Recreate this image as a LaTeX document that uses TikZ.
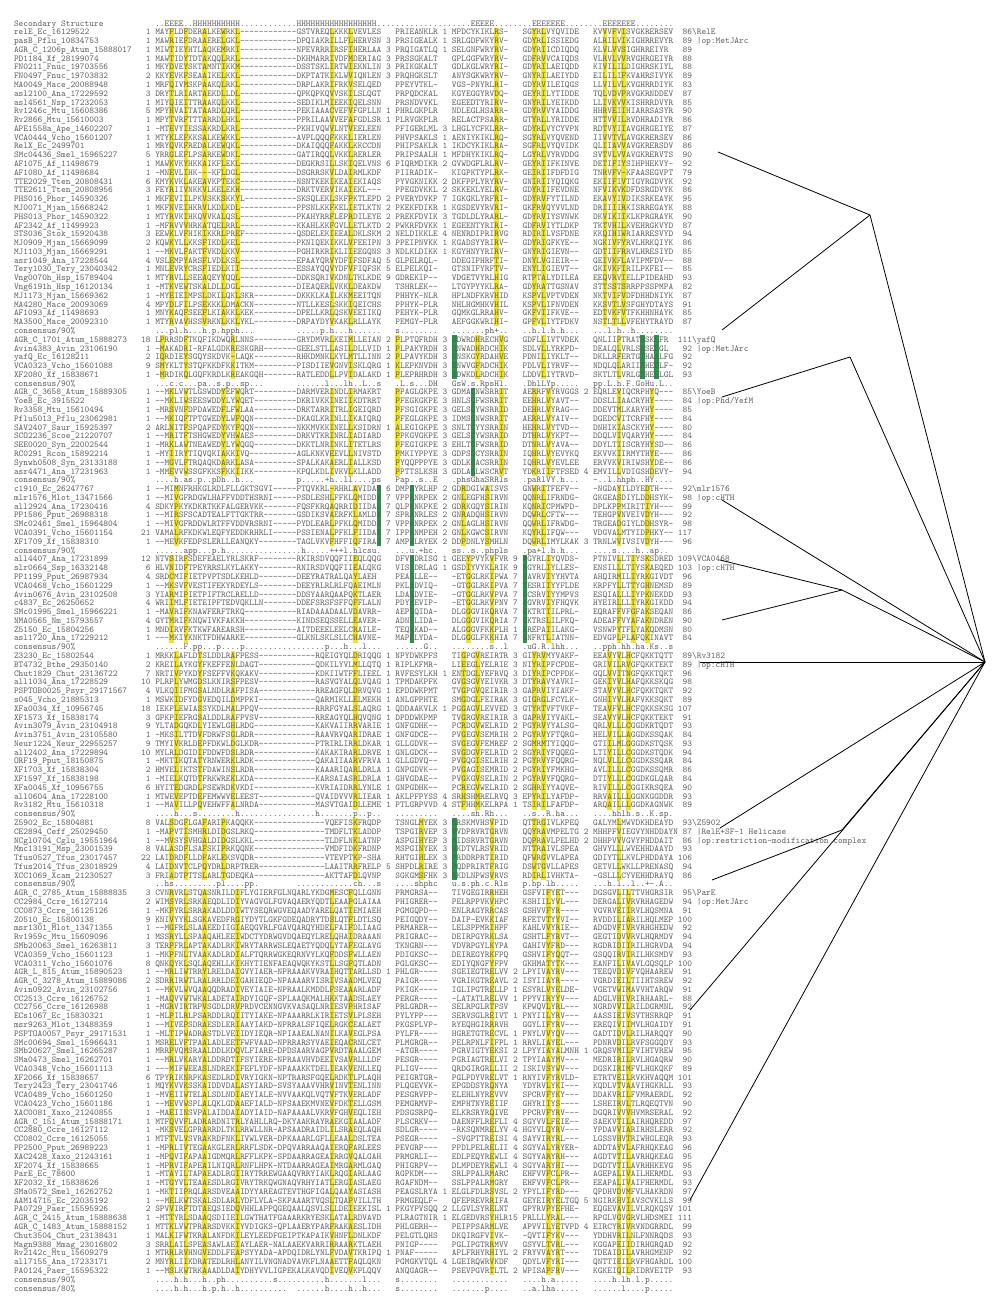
\documentclass[tikz,border=0pt]{standalone}
\usepackage{fontspec}
\setmonofont{lmmono10-regular.otf}
\usetikzlibrary{positioning}
\definecolor{ink}{RGB}{90,90,90}
\definecolor{hiyel}{RGB}{243,228,32}
\definecolor{higrn}{RGB}{38,150,72}
\newcommand{\pw}{4.709}
\newcount\rowk
\newcommand{\alnfont}{\fontsize{8.97}{9}\selectfont\ttfamily}
\tikzset{
    lt/.style={anchor=base west, inner sep=0pt, outer sep=0pt, text=ink, font=\alnfont},
    rt/.style={anchor=base east, inner sep=0pt, outer sep=0pt, text=ink, font=\alnfont},
    hy/.style={fill=hiyel},
    hg/.style={fill=higrn},
    branch/.style={draw=black, line width=0.8pt}
}
% one alignment row: name, start, A1, A2, i1, B, i2 | C, i3, D, i4, E, end, label
\newcommand{\sq}[7]{\global\advance\rowk by 1
    \def\sqnm{#1}\def\sqst{#2}\def\sqaa{#3}\def\sqah{#4}\def\sqia{#5}\def\sqbb{#6}\def\sqib{#7}\sqrest}
\newcommand{\sqrest}[7]{%
    \pgfmathsetmacro\yy{26+8.785*\the\rowk}
    \node[lt] (nm\the\rowk) at (14,\yy) {\sqnm};
    \node[rt] (st\the\rowk) at (150.56,\yy) {\sqst};
    \node[lt] (aa\the\rowk) at (155.27,\yy) {\sqaa};
    \node[lt] (ah\the\rowk) at (296.54,\yy) {\sqah};
    \node[rt] (ia\the\rowk) at (390.72,\yy) {\sqia};
    \node[lt] (bb\the\rowk) at (395.43,\yy) {\sqbb};
    \node[rt] (ib\the\rowk) at (447.23,\yy) {\sqib};
    \node[lt] (cc\the\rowk) at (451.94,\yy) {#1};
    \node[rt] (ic\the\rowk) at (517.86,\yy) {#2};
    \node[lt] (dd\the\rowk) at (522.57,\yy) {#3};
    \node[rt] (id\the\rowk) at (588.50,\yy) {#4};
    \node[lt] (ee\the\rowk) at (593.21,\yy) {#5};
    \node[rt] (en\the\rowk) at (692.10,\yy) {#6};
    \node[lt] (lb\the\rowk) at (692.10,\yy) {#7};
}
\newcommand{\hl}[4][hy]{\fill[#1] ({14+#2*\pw},{23.3+8.785*#3-4.4}) rectangle ({14+(#2+1)*\pw},{23.3+8.785*#4+4.4});}

\begin{document}
\catcode`\_=12
\begin{tikzpicture}[x=1pt, y=-1pt]
    \fill[white] (0,0) rectangle (1000,1309);
    \useasboundingbox (0,0) rectangle (1000,1309);

    \foreach \cl in {33,36,40,44,47,67,71,102,110,112,125,127,129} {\hl{\cl}{1}{34}}
    \foreach \cl in {31,36,46,67,71,81,98,103,112,128} {\hl{\cl}{36}{40}}
    \foreach \cl in {93,133,136} {\hl[hg]{\cl}{36}{40}}
    \foreach \cl in {33,36,44,47,67,71,81,103,110,113,128,135} {\hl{\cl}{42}{51}}
    \hl[hg]{97}{42}{51}
    \foreach \cl in {34,67,72,95,100,110,112,128,134} {\hl{\cl}{53}{59}}
    \foreach \cl in {77,84} {\hl[hg]{\cl}{53}{59}}
    \foreach \cl in {33,36,72,96,101,113,128,131,134} {\hl{\cl}{61}{70}}
    \foreach \cl in {84,108} {\hl[hg]{\cl}{61}{70}}
    \foreach \cl in {34,39,46,72,95,98,110,112,126,128,130} {\hl{\cl}{72}{89}}
    \foreach \cl in {33,36,40,44,72,86,101,110,112,128} {\hl{\cl}{91}{97}}
    \hl[hg]{93}{91}{97}
    \foreach \cl in {33,36,40,47,67,71,101,113,115,128,130} {\hl{\cl}{99}{142}}

    \node[lt] (sshead) at (14,26) {Secondary Structure};
    \node[lt] (ssline) at (155.27,26) {..EEEE..HHHHHHHHHH............HHHHHHHHHHHHHHHHH....................EEEEE........EEEEEEE........EEEEEEE........};

    \sq{relE_Ec_16129522}{1}{MAYFLDFDERALKEWRKL------------}{GSTVREQLKKKLVEVLES}{}{PRIEANKLR}{1}{MPDCYKIKLRS-}{}{SGYRLVYQVIDE}{}{KVVVFVISVGKRERSEV}{86}{\textbackslash RelE}
    \sq{pasB_Pflu_10834753}{1}{MAWRIEFDRAAERELGKL------------}{DPQIAKRILLFLHERVSN}{3}{PRSIGEALK}{1}{SRLGDFWKYRV-}{}{GDYRLISSIEDG}{}{ALRILVIKIGHRREVYR}{89}{~|op:MetJArc}
    \sq{AGR_C_1206p_Atum_15888017}{1}{MIWTIEYHTLAQKEMRKI------------}{NPEVRRRIRSFIHERLAA}{3}{PRQIGATLQ}{1}{SELGNFWRYRV-}{}{GDYRIICDIQDQ}{}{KLVLVVSIGHRREIYR}{89}{}
    \sq{PD1184_Xf_28199074}{1}{MAWTIDYTDTAKQQLRKL------------}{DKHMARRIVDFMDERIAG}{3}{PRSSGKALT}{}{GPLGGFWRYRV-}{}{GDFRVVCAIQDS}{}{VLRVLVVRVGHRGEIYR}{88}{}
    \sq{FN0211_Fnuc_19703556}{1}{MKYDVEYSKTAMNTIKKM------------}{DSSTSKLIRTWIEKNLIN}{3}{PRIKGKALT}{}{GDLKGLWRYRI-}{}{GDYRILAEIQDD}{}{KIVILILDIGHRSKIYL}{88}{}
    \sq{FN0497_Fnuc_19703832}{2}{KKYEVKFSEAAIKELKKL------------}{DKPTATKIKLWVIQNLEN}{3}{PRQHGKSLT}{}{ANYSGKWRYRV-}{}{GNYRILAEIYDD}{}{EILILIFKVAHRSIVYK}{89}{}
    \sq{MA0049_Mace_20088948}{1}{MRFQIVMSKPAAKQLRKL------------}{DRPLAKRIFRKVSELQED}{}{PPEYVTKL-}{}{VGS-PNYRLRI-}{}{GDYRVILEIQGS}{}{LLVILVLKVGHRRDIYK}{83}{}
    \sq{asl2100_Ana_17229592}{3}{DRYTLRIARTAEKDLLDL------------}{QPKQPKQVVSKILSLQGT}{}{PRPQDCKAL}{}{KGYEGGYRVDQ-}{}{GEYRILYTIDDE}{}{TQLVDVPRVGKRNDDEV}{87}{}
    \sq{asl4561_Nsp_17232053}{1}{MIYQIEITTRAAKQLKKL------------}{SEDIKLMIEEKIQELSNN}{}{PRSNDVVKL}{}{EGEEDTYRIRV-}{}{GNYRILYEIKDD}{}{LLIVKVVKISHRRDVYR}{85}{}
    \sq{Rv1246c_Mtu_15608386}{5}{MPYHVAITATAARDLQRL------------}{PEKIAAACVEFVFGPLLN}{1}{PHRLGKPLR}{}{NDLEGLHSARR-}{}{GDYRVVYAIDDG}{}{HHRVEIIHIARRSASYR}{90}{}
    \sq{Rv2866_Mtu_15610003}{1}{MPYTVRFTTTARRDLHKL------------}{PPRILAAVVEFAFGDLSR}{1}{PLRVGKPLR}{}{RELACTPSARR-}{}{GTYRLLYRIDDE}{}{HTTVVILRVDHRADIYR}{86}{}
    \sq{APE1558a_Ape_14602207}{1}{-MTEVYIESSAKRDLKRL------------}{PKHIVQWVLNTVEELEEN}{}{PFIGERLML}{3}{LHGLYCFKLRR-}{}{GDYRLVYCYVPN}{}{RDTVYIIAVGHRGEIYE}{87}{}
    \sq{VCA0444_Vcho_15601207}{1}{MTYKLEFKKSALKEWKKL------------}{AVPLQQQFKKKLIERLEN}{}{PHVPSAKLS}{1}{AENIYKIKLRQ-}{}{SGYRLVYQVEND}{}{IIVVTVLAVGKRERSEV}{86}{}
    \sq{RelX_Ec_2499701}{1}{MRYQVKFREDALKEWQKL------------}{DKAIQQQFAKKLKKCCDN}{}{PHIPSAKLR}{1}{IKDCYKIKLRA-}{}{SGFRLVYQVIDK}{}{QLIIAVVAVGKRERSDV}{86}{}
    \sq{SMc04436_Smel_15965227}{5}{YRRGLEFLPSARKEWDKL------------}{GATIRQQLVKKLRERLER}{}{PRIPSAALH}{1}{MFDHYKIKLRQ-}{}{LGYRLVYRVDDG}{}{SVTVLVVAVGKRERVTS}{90}{}
    \sq{AF1075_Af_11498679}{1}{MAWKVKYHKKAIKFLEKL------------}{DEGKRSILLSKIQELVNS}{6}{PIQRMDIKR}{2}{GVWDGFLRLRV-}{}{GEYRIIFKINVE}{}{DETIFIYSIHPHEKVY-}{92}{}
    \sq{AF1080_Af_11498684}{1}{-MNEVLIHK---KFLDGL------------}{DSGRRSKVLDAIRMLKDF}{}{PIIRADIK-}{}{KIGPKTYPLRK-}{}{GEIRIIFDFDIG}{}{TNRVFV-KFAASEGVPT}{79}{}
    \sq{TTE2029_Tten_20808431}{6}{KMYKVKLAKEAVKPTEKC------------}{NSNTKEKIKEAIEKIAQS}{}{PYVGKNIKK}{2}{DKFPPLYRYRV-}{}{GNIRIIYQIQKG}{}{EKIIFIVTIGYRGDVYK}{92}{}
    \sq{TTE2611_Tten_20808956}{3}{FEYRIIVNKKVLKELEKH------------}{DRKTVERVIKAIEKL---}{}{PPEGDVKKL}{2}{SKKEKLYELRV-}{}{GDYRIIFEVDNE}{}{NFVIKVKDFDSRGDVYK}{86}{}
    \sq{PHS016_Phor_14590326}{1}{MKFEVIILPKVSKKSKKYL-----------}{SKSQLEKLSKFPKTLEPD}{2}{PVERYDVKP}{7}{IGKGKLYRFRI-}{}{GDYRVFYTILND}{}{EKAVYIVDIKSRKEAYK}{95}{}
    \sq{MJ0071_Mjan_15668242}{1}{MKFNVEIHKRVLKDLKDL------------}{PPSNLKKFKELIETLKTN}{2}{PKEKFDIKR}{1}{KGSDEVYRVRI-}{}{GKFRVQYVVLND}{}{DRIIIIRKISRREGAYK}{88}{}
    \sq{PHS013_Phor_14590322}{1}{MTYRVKIHKQVVKALQSL------------}{PKAHYRRFLEPRDILEYE}{2}{PREKFDVIK}{3}{TGDLDLYRARL-}{}{GDYRVIYSVNWK}{}{DKVIKIIKLKPRGRAYK}{90}{}
    \sq{AF2342_Af_11499923}{1}{-MFRVVVHRKATQELRRL------------}{KKAHLKKFGVLLETLKTD}{2}{PWKRFDVKK}{1}{EGEENTYRIRI-}{}{GDFRVIYTLDKP}{}{TKTVHILKVEHRGKVYD}{87}{}
    \sq{STS036_Stok_15920438}{3}{EEWKLVFHIKIKKRLPREF-----------}{QSDELEKIEEALDKLSKM}{2}{NELDIKKLE}{4}{NENRDIPRIRVG}{}{RDIRILVSFDNE}{}{KKQIHIWRIARRESVYD}{94}{}
    \sq{MJ0909_Mjan_15669099}{2}{KQWKYLLKKSFIKDLKEL------------}{PKNIQEKIKKLVFEEIPN}{3}{PPEIPNVKK}{1}{KGADSYYRIRV-}{}{GDYRIGFKYE--}{}{NGKIVFYRVLHRKQIYK}{86}{}
    \sq{MJ1103_Mjan_15669291}{1}{--MKVLFAKTFVKDLKKV------------}{PGHIRKRIKLIIEEGQNS}{3}{NDLKLDIKK}{1}{KGYHNYYRIRV-}{}{GNYRIGIEVN--}{}{GDTIIFRRVLHRESIYD}{85}{}
    \sq{asr1049_Ana_17228544}{4}{VSLEMPYARSFLVDLKSL------------}{EPAAYQRVYDFIFSDFAQ}{5}{GLPELRQL-}{}{DDEGIPHRFTI-}{}{DNYLVGIEIR--}{}{GEIVKFLAVIPMFDV--}{88}{}
    \sq{Tery1030_Tery_23040342}{1}{MNLEVRYCRSFIEDLKII------------}{ESSAYQQVYDFVFIQFSK}{5}{ELPELKQI-}{}{GTSNIFYRFTV-}{}{ENYLIGIEVT--}{}{GKIVKFIRILPKFEI--}{85}{}
    \sq{Vng0070h_Hsp_15789404}{1}{MTYRVLLSEEAQEYYQQL------------}{DDKSQRIVKDNLTKLKDE}{9}{GDREKIP--}{}{VDGETVYRLHIG}{}{RTPTALYDILEA}{}{EEQVRVIELLPIDEAHD}{93}{}
    \sq{Vng6191h_Hsp_16120134}{1}{-MTKVEWTSKALDLLDGL------------}{DIEAQERLVKKLDEAKDW}{}{TSHRLEK--}{}{LTGYPYYKLRA-}{}{GDYRATTGSNAV}{}{STTSSTSRRPPSSPMPA}{82}{}
    \sq{MJ1173_Mjan_15669362}{1}{-MYEIEIMPSLDKILQKLSKR---------}{DKKKLKAILKKMEEITQN}{}{PHHYK-NLR}{}{HPLNDFKRVHID}{}{KSPVLVPTVDEN}{}{NKTVIFVDFDHHDNIYK}{87}{}
    \sq{MA4280_Mace_20093069}{4}{MPYDLFILPSEKKKLDMACKN---------}{NTLLKESLSKKIQEICHS}{}{PPHYK-PLR}{}{NHLHGMHKVHIL}{}{KSPVLIFNVDEN}{}{KKSVTLVSFGHYDTAYS}{91}{}
    \sq{AF1093_Af_11498693}{1}{MNYKAQFSEEFLKIAKKLKEK---------}{DPELLKRLQSKVEEIIKQ}{}{PEHYK-PLR}{}{GQMKGLRRAHV-}{}{GKFVIIFKVE--}{}{EDTVKFVTFKHHNHAYK}{85}{}
    \sq{MA3500_Mace_20092310}{1}{MTYRVAVHSSVRKNLKKLYKL---------}{DRPAYDYVKAKLRLLAYK}{}{PEMGY-PLR}{}{AEFGGKWRIHI-}{}{GPFVLIYTFDKV}{}{NSTLTLLVFEHYTRAYD}{87}{}
    \sq{consensus/90\%}{}{...pl.h...h.p.hpph...}{.....p.h...h......}{}{s........}{}{.......ph+..}{}{..h.l.h.h...}{}{...l.h..h........}{}{}

    \sq{AGR_C_1701_Atum_15888273}{18}{LPRRSDFTKQFIKDWQRLNNS---------}{GRYDMVRLKEIMLLEIAN}{2}{PLPTQFRDH}{3}{SDWRDHRECHVG}{}{GDFLLIVTVDEK}{}{QNLIIPTRATHSKLFR}{111}{\textbackslash yafQ}
    \sq{Avin4383_Avin_23106190}{1}{-MAKADRI-RFALGDKRESKGRH-------}{GEELSTLLASILDLLVID}{1}{PLPAKYRDH}{3}{SNWADHRDCHIK}{}{SDLVLLYRKPD-}{}{DEALQLVRLSHSELGL}{92}{~|op:MetJArc}
    \sq{yafQ_Ec_16128211}{2}{IQRDIEYSGQYSKDVK-LAQK---------}{RHKDMNKLKYLMTLLINN}{2}{PLPAVYKDH}{3}{SNSKGYRDAHVE}{}{PDNILIYKLT--}{}{DKLLRFERTGTHAALFG}{92}{}
    \sq{VCA0323_Vcho_15601088}{9}{SMYKLTYSTQFKKDFKKITKM---------}{PISDIIEVGNVISKLQRG}{1}{KLEPKNVDH}{3}{SNWVGFRDCHIK}{}{PDLVLIYRVF--}{}{NDQLQLARIISHEDLF-}{92}{}
    \sq{XF2080_Xf_15838671}{1}{-MRDIKQLGQFKRDLKREAKGQH-------}{RATLEDDLLPVIDALAKD}{1}{PLEPRHRDH}{3}{SDWKDLRDCHIK}{}{LDDVLIYTRVD-}{}{SKTLTLVRLGSHEELGL}{93}{}
    \sq{consensus/90\%}{}{...c.c...pa..s.p..sp...}{......l...lh..L..s}{}{.L.s...DH}{}{GsW.s.RpsHl.}{}{.DhlLYp.....}{}{pp.L.h.F.GoHu.L..}{}{}

    \sq{AGR_C_3658_Atum_15889305}{1}{--MKLVWTLGSWDDYEFWQRT---------}{DARMVERINDLIRMAKRT}{}{PPAGLGKPE}{3}{GDMAGNWSRRIT}{}{AERRFVYRVGGS}{2}{EQRLEVIQCRPHYQ---}{85}{\textbackslash YoeB}
    \sq{YoeB_Ec_3915522}{1}{--MKLIWSEESWDDYLYWQET---------}{DKRIVKKINEIIKDTRRT}{}{PFEGKGKPE}{3}{HNLSGFWSRRIT}{}{EEHRLVYAVT--}{}{DDSLLIAACRYHY----}{84}{~|op:Phd/YefM}
    \sq{Rv3358_Mtu_15610494}{1}{-MRSVNFDPDAWEDFLFWLAA---------}{DRKTARRITRLIGEIQRD}{}{PFSGIGKPE}{3}{GELSGYWSRRID}{}{DEHRLVYRAG--}{}{DDEVTMLKARYHY----}{85}{}
    \sq{Pflu5013_Pflu_23062981}{1}{--MKIQFTPTGWEDYLWFQQN---------}{DKAGLKRINLLIKAIQRQ}{}{PFEGLGKPE}{3}{IDMSGNWSRRIT}{}{AERRLVYAIV--}{}{DGEDCVITCRFHY----}{84}{}
    \sq{SAV2407_Saur_15925397}{2}{ARLNITFSPQAPEDYKYFQQN---------}{NKKMVKKINELLKSIDRN}{1}{ALEGIGKPE}{3}{SNLTGYYSRRIN}{}{HEHRLVYTVD--}{}{DNHIKIASCKYHY----}{80}{}
    \sq{SCO2236_Scoe_21220707}{1}{--MRITFTSHGWEDYVHWAES---------}{DRKVTKRINRLIADIARD}{}{PPKGVGKPE}{3}{GELSGYWSRRID}{}{DTHRLVYKPT--}{}{DDQLVIVQARYHY----}{84}{}
    \sq{SEE0020_Syn_22002544}{1}{-MRKLAWTNEAWEDYLYWQGQ---------}{DKKTLNRINKLITETLRS}{}{PFEGIGKPE}{3}{EHLTGFWSRRID}{}{DTNRLVYAVA--}{}{DDYLTIISCRYHYSD--}{86}{}
    \sq{RC0291_Rcon_15892214}{1}{-MYIIRYTIQVQKIAKKIVQ----------}{AGLKNKVEEVLLNIVSTD}{}{PMKIYPPYE}{3}{GDPSGCYSRRIN}{}{IQHRLVYEVYKQ}{}{EKVVKIIRMYTHYE---}{86}{}
    \sq{Synwh0508_Syn_23133188}{1}{--MGVLFTRQAQKDARKLASA---------}{SPALKAKAERLIALLKSD}{}{PYQQPPPYE}{3}{GDLKGACSRRIN}{}{IQHRLVYEVLEE}{}{ERVVKVIRIWSHYDE--}{86}{}
    \sq{asr4471_Ana_17231963}{1}{-MMEVVWSSGFKKSFKKIIKK---------}{KPQLKDLIVKVLKLLADD}{}{PPTTSLKSH}{3}{GDLAGLWSCRVT}{}{YDKRIIFTFSED}{4}{EMVILLVDIGSHDEVY-}{94}{}
    \sq{consensus/90\%}{}{....h.as.p..pDh..h...}{p.....+h..ll....ps}{}{Pap..s..E}{}{.phsGhaSRRls}{}{.paRlVY.h...}{}{-..l.hhph..HY....}{}{}

    \sq{c1910_Ec_26247767}{1}{--MIMNFRHKGLRDLFLLGKTSGVI-----}{PTQVKRL-RHRLAVIDAM}{6}{DMPSYRLHP}{2}{GDRDGIWAISVS}{}{GNWRITFEFV--}{}{-NGDAYILDYEDTH---}{92}{\textbackslash mlr1576}
    \sq{mlr1576_Mlot_13471566}{1}{--MIVGFRDGWLHAFFVDDTHSRNI-----}{PSDLESHLFFKLQMIDDA}{7}{VPPRNRPEK}{2}{GNLEGFHSIRVN}{}{QQNRLIFRNDG-}{}{GKGEASDIYLDDHSYK-}{98}{~|op:cHTH}
    \sq{all2924_Ana_17230416}{4}{SDKYPKYKDKRTKKFALGERVKK-------}{FQSFKRQAQRRIDIIDAL}{7}{QLPRNKPKE}{2}{GDRKGQYSIRIN}{}{KQNRICPMWPD-}{}{DPLKPPMIRITIYH---}{99}{}
    \sq{PP1586_Pput_26988318}{1}{--MIRSFSCADTEALFTTGKTRR-------}{GSDIKSVAERFKLAMLDA}{7}{SPRRNRLES}{2}{GNRADQHSIRVN}{}{DQWRLCFTW---}{}{TEHGPVNVEIVDYH---}{92}{}
    \sq{SMc02461_Smel_15964804}{1}{--MIVGFRDDWLRTFFVDDVRSRNI-----}{PYDLEARLPFKLQMIDDA}{7}{VPPRNRPEK}{2}{GNLAGLHSIRVN}{}{QQWRLIFRWDG-}{}{TRGEADGIYLDDHSYR-}{98}{}
    \sq{VCA0391_Vcho_15601154}{21}{VAMALRFKDKWLEQFYEDDKRHRLI-----}{PSSIENALPFKLFIIDAR}{7}{IPPRNMPEH}{2}{GNLKGWCSIRVN}{}{KQYRLIFQW---}{}{VDGVALMTYIDPHKY--}{117}{}
    \sq{XF1709_Xf_15838310}{1}{--MEVKFEDPSLERLLEANQKY--------}{TAGLVKVFHFFIQFIRAS}{7}{AMPRLRYEK}{2}{DDPDNLYSMHLN}{}{DQWRLIMYLKAK}{3}{TRNLWVIVSIVDYH---}{96}{}
    \sq{consensus/90\%}{}{......app...p.h...............}{.h.....+++l.hlcsu.}{}{...u.+hc.}{}{ss..s..phpls}{}{.pa+l.h.h...}{}{....s....h..ap..}{}{}

    \sq{all4407_Ana_17231899}{12}{NTVSIRFSDEFEAELYRLSKRF--------}{RKIRSDVQQFIIEQLQQG}{}{DFVSDRISG}{1}{GEEYPVYKVFVR}{9}{RGYRLIYQVDS-}{}{PTNIVLLTIYSKSDRED}{109}{\textbackslash VCA0468}
    \sq{slr0664_Ssp_16332148}{6}{HLVNIDFTPEYRRSLKYLAKKY--------}{RNIRSDVQQFIIEALQKG}{}{VISEDRLAG}{1}{GSDIYVYKLRIK}{9}{RGYRLIYLLES-}{}{ENSILLLTIYSKAEQED}{103}{~|op:cHTH}
    \sq{PP1199_Pput_26987934}{4}{SRDCMIFIETPVPTSDLKEHLD--------}{DEEYRATRALQAYLAEH}{}{PEASLLE--}{}{-ETGGLRKIPWA}{7}{GAVRVIYYHVTA}{}{AHQIRMILIYRKGIVDT}{96}{}
    \sq{VCA0468_Vcho_15601229}{1}{--MKSVFVESTIFEKYRDEYLS--------}{DEEYRLRLRLFQAEIMLN}{}{PKLADVIQ-}{}{-GTGGLRKIPVA}{7}{TESRIIYYFLDE}{}{KRPFYLLTTYGHNEMSD}{89}{}
    \sq{Avin0676_Avin_23102508}{3}{YIARMIPIETPIFTRCLRELLD--------}{DDSYAARQAAPQKTLAER}{}{LDAHDVIE-}{}{-GTGGLRKVPVA}{7}{GCSRVIYYMPVS}{}{ESQIALLLIYPKNEKDD}{93}{}
    \sq{c4837_Ec_26250652}{4}{WRIIMLFIETEIPFTEDVQKLLN-------}{DDEFSRSFSFFQFFLALN}{}{PDYHEVIP-}{}{-ETGGLRKVPNV}{7}{AGVRVIYFHQVK}{}{HYEIRLLLIYRKGIKDD}{94}{}
    \sq{SMc01995_Smel_15966221}{1}{-MAVRIFKNAWFERFTRKQ-----------}{RIADAAADAALVDAVRR-}{}{AEPEQIDA-}{}{DLGGGVIKQRVA}{7}{GKTRTIILPRL-}{}{EQRAFFVFGFAKSEQAN}{86}{}
    \sq{NMA0565_Nm_15793557}{4}{GYTMRIFKNQWIVKFAKKH-----------}{KINDSEQSSELLEAVER-}{}{ADNELIDA-}{}{DLGGGVIKQRIA}{7}{GKTRSLILFKQ-}{}{ADEAFFVYAFAKNDREN}{90}{}
    \sq{Z5150_Ec_15804256}{1}{MNDIRVFKTKWFAREARSH-----------}{AITDEEELEELCRAILE-}{}{TEQRKAD--}{}{ALGGGVFKKPLH}{1}{NREPAIILAKG-}{}{VSNWPYTFLYAKQDMSN}{80}{}
    \sq{asl1720_Ana_17229212}{1}{---MKIYKNKTFDHWARKE-----------}{GLKNLSKLSLLCHAVNE-}{}{MAPELYDA-}{}{DLGGGLFKKHIA}{7}{GNFRTLIATNN-}{}{EDVGPLPLAFQKINAVT}{84}{}
    \sq{consensus/90\%}{}{......F.pp...p....p...........}{......p...h...l...}{}{......G..}{}{........s..l}{}{.uG.R.lhh...}{}{..pph.hh.ha.Ks..s}{}{}

    \sq{Z3230_Ec_15802544}{1}{MRKKLAFLDTSLDDLRAFPESS--------}{----RQEIGYQLDRIQQG}{1}{NPYDWKPFS}{}{TIGPGVREIRTR}{3}{GIYRVMYVAKF-}{}{EEAVYVLHCFQKKTQTT}{89}{\textbackslash Rv3182}
    \sq{BT4732_Bthe_29350140}{2}{KREILAYKGYFKEFFENLDAGT--------}{----QDKILYVLMLLQTQ}{1}{RIPLKFMR-}{}{LIEEGLYELRIE}{3}{NIYRIPFCPDE-}{}{GRIVILRVGFQKKTEKT}{89}{~|op:cHTH}
    \sq{Chut1829_Chut_23136722}{7}{NRTIVPYKDYFSEFFVKQKAKV--------}{----KDKIIWTFFLIEEL}{1}{RVFESYLKH}{1}{ENTDGLYEFRVQ}{3}{DIYRIPCPPDK-}{}{GQLVVITNGFQKKTQKT}{96}{}
    \sq{all1034_Ana_17228529}{10}{PLRPLYWMGDSLKNIRSFPESV--------}{----RASVGYALQLVQAG}{1}{TPMDAKPFK}{}{GVGSGVYEIVKR}{3}{DTYRAVYAVKI-}{}{GEKIYVLHAFQKKSKQG}{98}{}
    \sq{PSPTOB0025_Psyr_29171567}{4}{VLKQIIFMGSALNDLRAFPISA--------}{----RREAGFQLDRVQVG}{1}{EPDDWKPMT}{}{TVGPGVQEIRIR}{3}{GAPRVIYIAKF-}{}{STAVYVLHCFQKKTQKT}{92}{}
    \sq{s045_Vcho_21885313}{1}{MSWKIDFYDGVEDQILDMPPKI--------}{----QARMIKLLELMEKH}{1}{ANLGPPHTE}{}{SMGDGLFEIRAK}{3}{GIGRGLFCYLK-}{}{GNHIYVLHAFVKKSQKT}{89}{}
    \sq{XFa0034_Xf_10956745}{18}{IEKPLEWIASSYKDLMALPPQV--------}{----RRRFGYALSLAQRG}{1}{QDDAAKVLK}{1}{PGGAGVLEVVED}{3}{GTYRTVFTVKF-}{}{TEAVFVLHCFQKKSKSG}{107}{}
    \sq{XF1573_Xf_15838174}{3}{GPKPIEFRGSALDDLRAFPVSV--------}{----RREAGYQLHQVQNG}{1}{DPDDWKPMP}{}{TVGRGVREIRIR}{3}{GAPRVIYVAKL-}{}{SEAVYVLHCFQKKTEKT}{91}{}
    \sq{Avin3079_Avin_23104918}{9}{YLTADGQKDLYIEWLGHLRDG---------}{----KAKVAIIRRVARIE}{1}{GNFGDHK--}{}{PCRDGVWELRID}{2}{PGYRVYYALSG-}{}{QRLVLLLCGGDKRTQDT}{93}{}
    \sq{Avin3751_Avin_23105580}{1}{-MKSILTTDVFDRWFSGLRDR---------}{----RAAVRVQARIDRAE}{1}{GNFGDCE--}{}{PVGEGVSEMRIH}{2}{PGYRVYFTQRG-}{}{HELVILLAGGDKSSQAK}{84}{}
    \sq{Neur1224_Neur_22955257}{9}{TMYIVKRLDEPFDKWLDGLKDR--------}{----PTRIRLIRRLDKAR}{1}{GLLGDVK--}{}{SVGEGVFEMREF}{2}{SGMRMTYIQQG-}{}{GTIILMLGGGDKSTQSK}{93}{}
    \sq{all2402_Ana_17229894}{10}{MYLRLDGIDIFDDWFDSLRDR---------}{----KAKAKIRARLDRVE}{1}{GNLGDCK--}{}{SVGDGVFELRID}{2}{SGYRIYFQQEG-}{}{LTIYILLCGGDKSTQDK}{94}{}
    \sq{ORF19_Pput_18150875}{1}{-MKTIKQTATYRNWERKLRDK---------}{----QAKAIIAARVFRVA}{1}{GLLGDVQ--}{}{PVGQGISELRIH}{2}{PGYRVYFQQRG-}{}{NQLVLLLCGGDKSSQAR}{84}{}
    \sq{XF1703_Xf_15838304}{2}{HMVELIKTSTFDAWINSLRDR---------}{----KAAARIQARLDRLA}{1}{GNPGDVK--}{}{PVGAGISEMRID}{2}{PGYRIYFMKHG-}{}{AVLILLLCGGDKSSQMR}{86}{}
    \sq{XF1597_Xf_15838198}{1}{-MIELKQTDTFRKWREKLKDA---------}{----KARSAIASRLDRLA}{1}{GHVGDAE--}{}{PVGKGVSELRIN}{2}{PGYRVYFQQRG-}{}{DTIYLLLCGGDKGLQAR}{84}{}
    \sq{XFa0045_Xf_10956755}{6}{HYITEDGRDLPSEWRDKVKDI---------}{----KVRIAIDRRLYNLE}{1}{GNPGDHK--}{}{PCREGVWELRID}{2}{SGHRIYYAQVE-}{}{RIVILLLCGGIKRSQEA}{90}{}
    \sq{all0604_Ana_17228100}{1}{MTWEVEPTDEFEMWWVELEEST--------}{----QVAIDVVVRLIEAR}{1}{AKLPFPYSS}{4}{SRHSHMRELRVQ}{3}{EPYRILYAFDP-}{}{RRVAILLLGGNKGGDDR}{93}{}
    \sq{Rv3182_Mtu_15610318}{1}{--MAVILLPQVEHWFFALNRDA--------}{----MASVTGAIDLLEME}{1}{PTLGRPVVD}{4}{STFHHMKELRPA}{1}{TSIRILFAFDP-}{}{ARQAILLLGGDKAGNWK}{89}{}
    \sq{consensus/90\%}{}{....h...s........h............}{....h.......p..p..}{}{.........}{}{....sh.Rh...}{}{..s..R.ha...}{}{....hhlh.s..K.sp.}{}{}

    \sq{Z5902_Ec_15804881}{8}{VALSDGFLGAFARIPKAQQKK---------}{------VQEFISKFRQDP}{}{TSNGLMYEK}{3}{RRSKMVHSVPID}{}{QTTRGIVLKPEQ}{}{GALYMLMWVDKHDEAYD}{93}{\textbackslash Z5902}
    \sq{CE2894_Ceff_25029450}{1}{-MAPVTISMHRLDIDGSLRKQ---------}{------TMDFLTKLADDP}{}{TSPGIRVEP}{3}{VVDPRVRTGRVN}{}{QQYRAVMPELTG}{2}{MHHPFVIEGVYNHDDAYN}{87}{~|RelE+SF-1 Helicase}
    \sq{NCgl0704_Cglu_19551964}{1}{--MVSYSVHGALDIDGSLKKL---------}{------TLDFLNKLATNP}{}{ASPGIHYEP}{3}{MIDSRVRTGRVN}{}{DQPRAVLPELHD}{2}{DHHPVVVGVYPHDDAIT}{86}{~|op:restriction-modification complex}
    \sq{Mmc13191_Msp_23001539}{8}{VALASDFLSAFSKIPRKQQNK---------}{------VMDFIDKFRDNP}{}{MSPGINYEK}{3}{RKDTVLRSVRID}{}{NTTRAIVLSPEA}{}{GHVYLLLWVEHHDAAYD}{93}{}
    \sq{Tfus0527_Tfus_23017457}{22}{LAIDRDFLLDFAKLEKSVQDR---------}{------VTEVPTKP-SHA}{}{RHTGIHLEK}{3}{PRDDRPRTIRID}{}{QFWRGVVLAPEA}{}{GDIYTLLKVLPHDDAYA}{106}{}
    \sq{Tfus2014_Tfus_23018929}{4}{LAIDNVTCLPQYDRLDRPTRER--------}{------LAAITRRFRELP}{5}{SHPDLRIRE}{3}{PQDPRIRTFRIG}{}{DSWTGVLLAPES}{}{GETVLLWKLLPRENASQ}{94}{}
    \sq{XCC1069_Xcam_21230527}{3}{FRIADTPTTSLARLTGDEQKA---------}{------AKTTAFDLQVNP}{}{SGKGMSFHK}{3}{RKDLNPWSVRVS}{}{RDIRLIVHKTA-}{}{-GSLLLCYVEHHDRAYQ}{86}{}
    \sq{consensus/90\%}{}{..hs.........pl....pp.}{............ch...s}{}{....shphc}{}{u.s.ph.c.Rls}{}{p.hp.lh.....}{}{...h.l..l..+-.A..}{}{}

    \sq{AGR_C_2785_Atum_15888835}{3}{CVNRVRLSTQASNRILDIFLYGIERFGLNQ}{ARLYKDGMESCFQLLGNN}{}{PRMGRSA--}{}{TIVGEGIRRHEH}{}{GSFVIFYET---}{}{DGSGVLILTTVHGRSIR}{95}{\textbackslash ParE}
    \sq{CC2984_Ccre_16127214}{2}{WIMSYRLSRKAEQDLIDIYVAGVGLFGVAQ}{AERYQDTLEAAPGLAIAA}{}{PHIGRER--}{}{PELRPPVKVHPC}{}{KSHIILYVL---}{}{DERGALIVRVRHAGEDW}{94}{~|op:MetJArc}
    \sq{CC0873_Ccre_16125126}{1}{-MKPYRLSRRAKADLDDIWTYSEQRWGVEQ}{AADYARELQATIEMIAEH}{}{PGMGQPD--}{}{ENLRAGYRRCAS}{}{GSHVVFYR----}{}{VGVRVEIIRVLHQSMNA}{91}{}
    \sq{Z0510_Ec_15800138}{9}{KNIVYYKLSGKAVEDFRGIYDYTLGKFGDE}{QADRYTDSLQTFLDTLSQ}{}{PEIGQDY--}{}{DAIP-EVKKIAF}{}{RFETVTYYVI--}{}{RVDDILIARILHQLMEP}{100}{}
    \sq{msr1301_Mlot_13471355}{1}{--MGFRLSLAAEEDIIGIAEQGVRLFGAVQ}{ARQYHDELFAIFDLIAAG}{}{PRMARER--}{}{LELSPPMRIHPF}{}{KAHLVVYRIE--}{}{ADGDVFIVRVRHGHEDW}{92}{}
    \sq{Rv1959c_Mtu_15609096}{1}{MSSRYLLSPAAQAHLEEIWDCTYDRWGVDQ}{AEQYLRELQHAIDRAAAN}{}{PRIGRAC--}{}{DEIRPGYRKLSA}{}{GSHTLFYRVT--}{}{GEGTIDVVRVLHQRMDV}{94}{}
    \sq{SMb20063_Smel_16263811}{3}{TERPFRLAPTAKADLRKIWRYTARRWSLEQ}{AETYQDQLYTAFEGLAVG}{}{TKNGRN---}{}{VDVRPGYLKYPA}{}{GAHIVYFRD---}{}{RGDRIDIIRILHGRVDA}{94}{}
    \sq{VCA0359_Vcho_15601123}{1}{-MKPFNLTVAAKADLRDIALFTQRRWGKEQ}{RNVYLKQFDDSFWLLAEN}{}{PDIGKSC--}{}{DEIREGYRKFPQ}{}{GSHVIFYQQT--}{}{GSQQIRVIRILHKSMDV}{93}{}
    \sq{VCA0311_Vcho_15601076}{8}{QNKQYKLSQLAQEHLLKIKHYTIENFAEAQ}{WQKYKSTLLSGFQTLADN}{}{PGLGKSC--}{}{EDIYQNGFYFPV}{}{GKHMATYTK---}{}{EANFILIVAVLGQSQLP}{100}{}
    \sq{AGR_L_815_Atum_15890523}{1}{--MRLIWTRRYLRELDAIGVYIAER-NPRA}{AAKVVRAIHQTTARLLSD}{1}{PHLGR----}{}{SGEIEGTRELVV}{2}{LPYIVAYRV---}{}{TEEQVDIVFVQHAAREW}{91}{}
    \sq{AGR_C_3278_Atum_15889086}{2}{SDRRIRWTLRALRRLDEIGAHIEQD-NPAA}{AARVISRIVSAADMLVEQ}{}{PAIGR----}{}{VGRIKGTREAVL}{2}{ISYIIAYR----}{}{VGRDIEILTIIHTSREW}{92}{}
    \sq{Avin0922_Avin_23102756}{1}{--MKVLWVQAAQQDRADIVEYIAIE-NPRA}{ALKMDDLFSEAAARLADF}{}{PKIGK----}{}{IGLIPGTRELLP}{1}{ESYRLVYELDE-}{}{VGETVWIMAVVHTARQW}{91}{}
    \sq{CC2513_Ccre_16126752}{1}{-MAQVVWTWKALADETAIRDYIGQF-SPLA}{AQKMALHKKTAADSLAEY}{}{PERGR----}{}{-LATATLRELVV}{1}{PPYVIRYYV---}{}{ADGLVHIVRIRHAARL-}{88}{}
    \sq{CC2756_Ccre_16126988}{1}{-MGRVIRTRPVSGDLDRVPRDVCENNGVKV}{ASAQLNRIESVPHRISAF}{}{PRLGRDR--}{}{SELRPGLRTPSV}{}{KPWQVLYRL---}{}{NGRDVVILRILDGRMNL}{92}{}
    \sq{ECs1067_Ec_15830321}{1}{-MLPILRLPSARDDLRQIITYIAKE-NPAA}{ARRLKIRIETSVLPLSEH}{}{PYLYPP---}{}{SERVSGLREIVT}{1}{PNYIILYRV---}{}{AASSIEIVSVTHSRRQP}{91}{}
    \sq{msr9263_Mlot_13488359}{1}{--MIVEPSDRAESDLERIAAYIAKD-NPRR}{ALSFIQELRGKCEALAET}{}{PKGSPLVP-}{}{RYEQHGIRRRVH}{}{GGYLIFYRV---}{}{EREQIVIIMVLHGAIDY}{91}{}
    \sq{PSPTOA0057_Psyr_29171531}{1}{-MLTIPWADRASTDLVEIIDYIEQR-NPIA}{AEALNANILKAVEGLPSA}{}{PYLFR----}{}{HGRETGTRECVL}{1}{PNYLVVYQV---}{}{GADTIDVLRILHARQQY}{90}{}
    \sq{SMc00694_Smel_15966431}{1}{MSRELVFTPAALADLEETFWFVAAD-NPRR}{ARSYVAEIEQACRNLCET}{}{PLMGRGR--}{}{PELRPNLFIFPL}{1}{RRVLIAYEL---}{}{PDNRVDILRVFSGGQDY}{93}{}
    \sq{SMb20627_Smel_16265287}{1}{MRRPVQMSRAALDDLKDQVLFIARE-DPDS}{AARVAGPVRDTAAALGEM}{}{-ATGR----}{}{PGRVIGTYEKSI}{2}{LPYYIAYALMNH}{1}{GRQSVMILFVIHTVREW}{95}{}
    \sq{SMa0473_Smel_16262701}{1}{--MRLVKARYALDDRDTIFSYIERE-NPRA}{AVHVDEEIVSAVRLLLDF}{}{PESGR----}{}{PGRIAGTRELVI}{2}{TPYIAAYMV---}{}{MEDRIRILRVLHGAQRW}{90}{}
    \sq{VCA0348_Vcho_15601113}{1}{---MIFWEEASLNDREKIFEFLYDF-NPAA}{AKKTDELIEAKVENLLEQ}{}{PLIGV----}{}{QRDGIRGRLLII}{2}{ISKIVSYWV---}{}{DGSKIRIMFVLHGKQKF}{89}{}
    \sq{XF2066_Xf_15838657}{6}{TPYRIKNRPKASEDLRDIVRYIGKN-NPTR}{ARSFGQELRDKTLPLAQH}{}{PEIGRTGR-}{}{PGLPDYVRELVT}{1}{RNYIVFYRVLD-}{}{ETRTVEILRVKHVAQQM}{101}{}
    \sq{Tery2423_Tery_23041746}{1}{MQYKVVKSSKAIDDVDALASYIARD-SVSY}{AAAVVHRVINVTENLINN}{}{PLQGEVVK-}{}{EPGDDSYRQNYA}{}{YDYRVLYKI---}{}{KQDLVTVAAVIHGKRLL}{93}{}
    \sq{VCA0489_Vcho_15601250}{1}{-MVEIIWTELALSDLNDIAEYIALE-NVVA}{AKQLVQTVFTKVERLADF}{}{PESGRVPP-}{}{ELEHLNYREVVV}{}{SPCRVFYKY---}{}{DDAKVRILFVMRAERDL}{92}{}
    \sq{VCA0423_Vcho_15601186}{1}{--MEVVWSPLALQKLGDAAEFIALD-NPSA}{AEKMVNEVFDKTELLGSM}{}{PEMGRMVP-}{}{EMPHTNYREIIF}{}{GHYRIIYS----}{}{LSHEIRVLTLRQEQTVN}{90}{}
    \sq{XAC0081_Xaxo_21240855}{1}{-MAEIINSVPALAIDDAIADYIAID-NAPA}{AAALVKRVFGHVEQLIEH}{}{PDSGSRPQ-}{}{ELKRSRYRQIVE}{}{PPCRVFYRV---}{}{DGQRIVVVHVMRSERAL}{92}{}
    \sq{AGR_C_151_Atum_15888171}{1}{MTFQVVFLADRARDNITRLYAHLLRQ-DKY}{AAKRAYRAEKGIAALADF}{}{PLSCRKV--}{}{DAENFFLREFLI}{4}{SGYVVLFEIE--}{}{SAEKVTILAIRHQREDD}{97}{}
    \sq{CC2880_Ccre_16127112}{1}{-MKSVELGPRARRDLTKLRRWLLNR-APSA}{ADRAIDLILSRAEQLAQH}{}{SDLGR----}{}{-RKSQNMRELYV}{4}{HGYVLQYRV---}{}{YPDAVVIARIRHSLERR}{92}{}
    \sq{CC0802_Ccre_16125055}{1}{MTFTVLVSVRAKRDFNKLIVWLVER-DPKA}{AARLGFLLEAALDSLTEA}{}{PSEGR----}{}{-SVGPTTREISI}{4}{SAYVIRYRL---}{}{LGSSVHVTRIWHGLEQR}{93}{}
    \sq{PP2500_Pput_26989223}{1}{-MPRLIVTEGAAKGLERLRRFLSDK-DPQV}{ARRAAQAIERQFARLEES}{}{PEVGRP---}{}{PPDLPELRELII}{4}{SGYVALYRYER-}{}{ADDTAYVLAFRHQKEAG}{96}{}
    \sq{XAC2428_Xaxo_21243161}{1}{-MPQVIFAPAAIGDMQRLRFFLKPK-SPDA}{ARRAGEAIRRGVQALGAH}{}{PRMGRLI--}{}{EDLPEQYREWLI}{4}{SGYVARYRH---}{}{AGDTVTILAVRHQKEAG}{95}{}
    \sq{XF2074_Xf_15838665}{1}{-MPRVIFAPEAILNIQRLRNFLHPK-NTDA}{ARRAGEAIMRGARMLGAQ}{}{PHIGRPV--}{}{DLMPDEYREWLI}{4}{SGYVARYHI---}{}{DGDTVTILAVRHHKEVG}{95}{}
    \sq{ParE_Ec_78600}{1}{-MTAYILTAPAEADLRGIIRYTRREWGAAQ}{VRRYIAKLRQGIARLAAG}{}{RGPKDM---}{}{SRLPPALRMARC}{}{EHFVVFCLPR--}{}{AGEPALIVAILHERMDL}{93}{}
    \sq{XF2032_Xf_15838626}{1}{-MTGYVLTEAAESDLRGIVRYTRKQWGNAQ}{VRHYIATLERGIASLAEG}{}{RGAFNDM--}{}{SSLPPALRMGRY}{}{EHFVVFCLPR--}{}{EEAPALIVAIFHERMDL}{93}{}
    \sq{SMa0572_Smel_16262752}{1}{-MKTIIPRQLARSDVEAAIDYYAREAGTEV}{THGFIGALQAAYASIASH}{}{PEAGSLRYA}{1}{ELGLFDLRSVSL}{2}{YPYLIFYRD---}{}{QPDHVDVMFVLHAKRDN}{97}{}
    \sq{AAM14715_Ec_22035192}{1}{--MELKWTSKALSDLARLYDFLVLA-SKPA}{AARTVQSLTQAPVILLTH}{}{PRMGEQLF-}{}{QFEPREVRRIFA}{}{GEYEIRYELTGQ}{5}{NGIRKHVIAVSCVKLLS}{99}{}
    \sq{PA0729_Paer_15595926}{2}{SPVVIRFTDTAEQSIEDQVHHLAPPQGEQA}{ALQSVLSLLDEIEEKISL}{1}{PKGYPVSQQ}{2}{LLGVLSYRELNT}{}{GPYRVPYEFHE-}{}{EQGEVAVILVLRQKQSV}{101}{}
    \sq{AGR_C_2415_Atum_15888638}{1}{-MTTYRLSDAAQSDIIEILGWTHATFGAAA}{RKRYESKLATALRDVAVD}{}{PLRAGTNIR}{1}{ELGEDVRSYHLR}{15}{PRLLLYRAL---}{}{RPGLVGVGRVLHDSMEI}{111}{}
    \sq{AGR_C_1483_Atum_15888152}{1}{MTTKLVWTPRARSDVKKIYVDIGKS-QPLA}{AERYPARFRAKAESLIDH}{}{PHLGERH--}{}{PEIPPSARMLVE}{}{APVVILYETVPD}{4}{EIRCYRIVRVNDGRRDL}{99}{}
    \sq{Chut3504_Chut_23138431}{1}{MALKIFWTKRALANFDKILEYLEEDFGEIP}{TKAPAIKVHNFLDNLKDF}{}{PELGTLQHS}{}{DKQIRGFVIVK-}{}{-QVTIFYKV---}{}{YDDHVRILNLFNNRQDS}{93}{}
    \sq{Magn9388_Mmag_23016802}{3}{SRRLAILSPEASAWLAEIAYLAER-NALAA}{EKVARRIRRAARKTLAEH}{}{PNIGP----}{}{PGLIPGTRRMVV}{}{GSYVLTVRL---}{}{KGGAPEIIDIRHGRQAD}{92}{}
    \sq{Rv2142c_Mtu_15609279}{1}{MTRRLRVHNGVEDDLFEAPSYYADA-APDQ}{IDRLYNLFVDAVTKRIPQ}{1}{PNAF-----}{}{APLFRHYRHIYL}{2}{FRYVVAYRT---}{}{TDEAIDILAVRHGMENP}{92}{}
    \sq{all7155_Ana_17233171}{2}{MNYRLIIKDRATEDLRHLANYILVNGNADV}{AVKFLNAAETTFAQLQKN}{}{PGMGKVTQL}{4}{LGEIRQWRVKDF}{}{QDYLVFYRI---}{}{QNTTIEILRVFHGARDL}{100}{}
    \sq{PA0124_Paer_15595322}{1}{--MSLKWTRKAAADLDAIYDHYVVLIGPEK}{ALKAVQDIVEQVKPLQQV}{}{ANQGAGR--}{}{PSEVPGVRTLTL}{2}{WPISAPFRV---}{}{KGKEIQILRIDRVEITP}{93}{}
    \sq{consensus/90\%}{}{....h.h...h..ph..........s....}{......h.......l...}{}{s........}{}{............}{}{....h.a.....}{}{....h.lh.l.p.....}{}{}
    \sq{consensus/80\%}{}{....h.h...h.p.h..h..........}{......h....h..h...}{}{s........}{}{.......p....}{}{..a.lha.....}{}{......l....p.....}{}{}

    \coordinate (root) at (985,662);
    \coordinate (jrel) at (870,215);
    \coordinate (jyaf) at (850,357);
    \coordinate (jmlr) at (842,590);
    \coordinate (jz59) at (842,830);
    \foreach \tx/\ty/\tj in {718/152/jrel, 722/330/jrel, 722/397/jyaf, 720/560/jmlr, 722/620/jmlr, 712/880/jz59} {
        \draw[branch] (\tx,\ty) -- (\tj);
    }
    \foreach \tj in {jrel, jyaf, jmlr, jz59} {\draw[branch] (\tj) -- (root);}
    \foreach \tx/\ty in {722/500, 700/662, 720/828, 690/1010, 690/1200} {\draw[branch] (\tx,\ty) -- (root);}
\end{tikzpicture}
\end{document}
